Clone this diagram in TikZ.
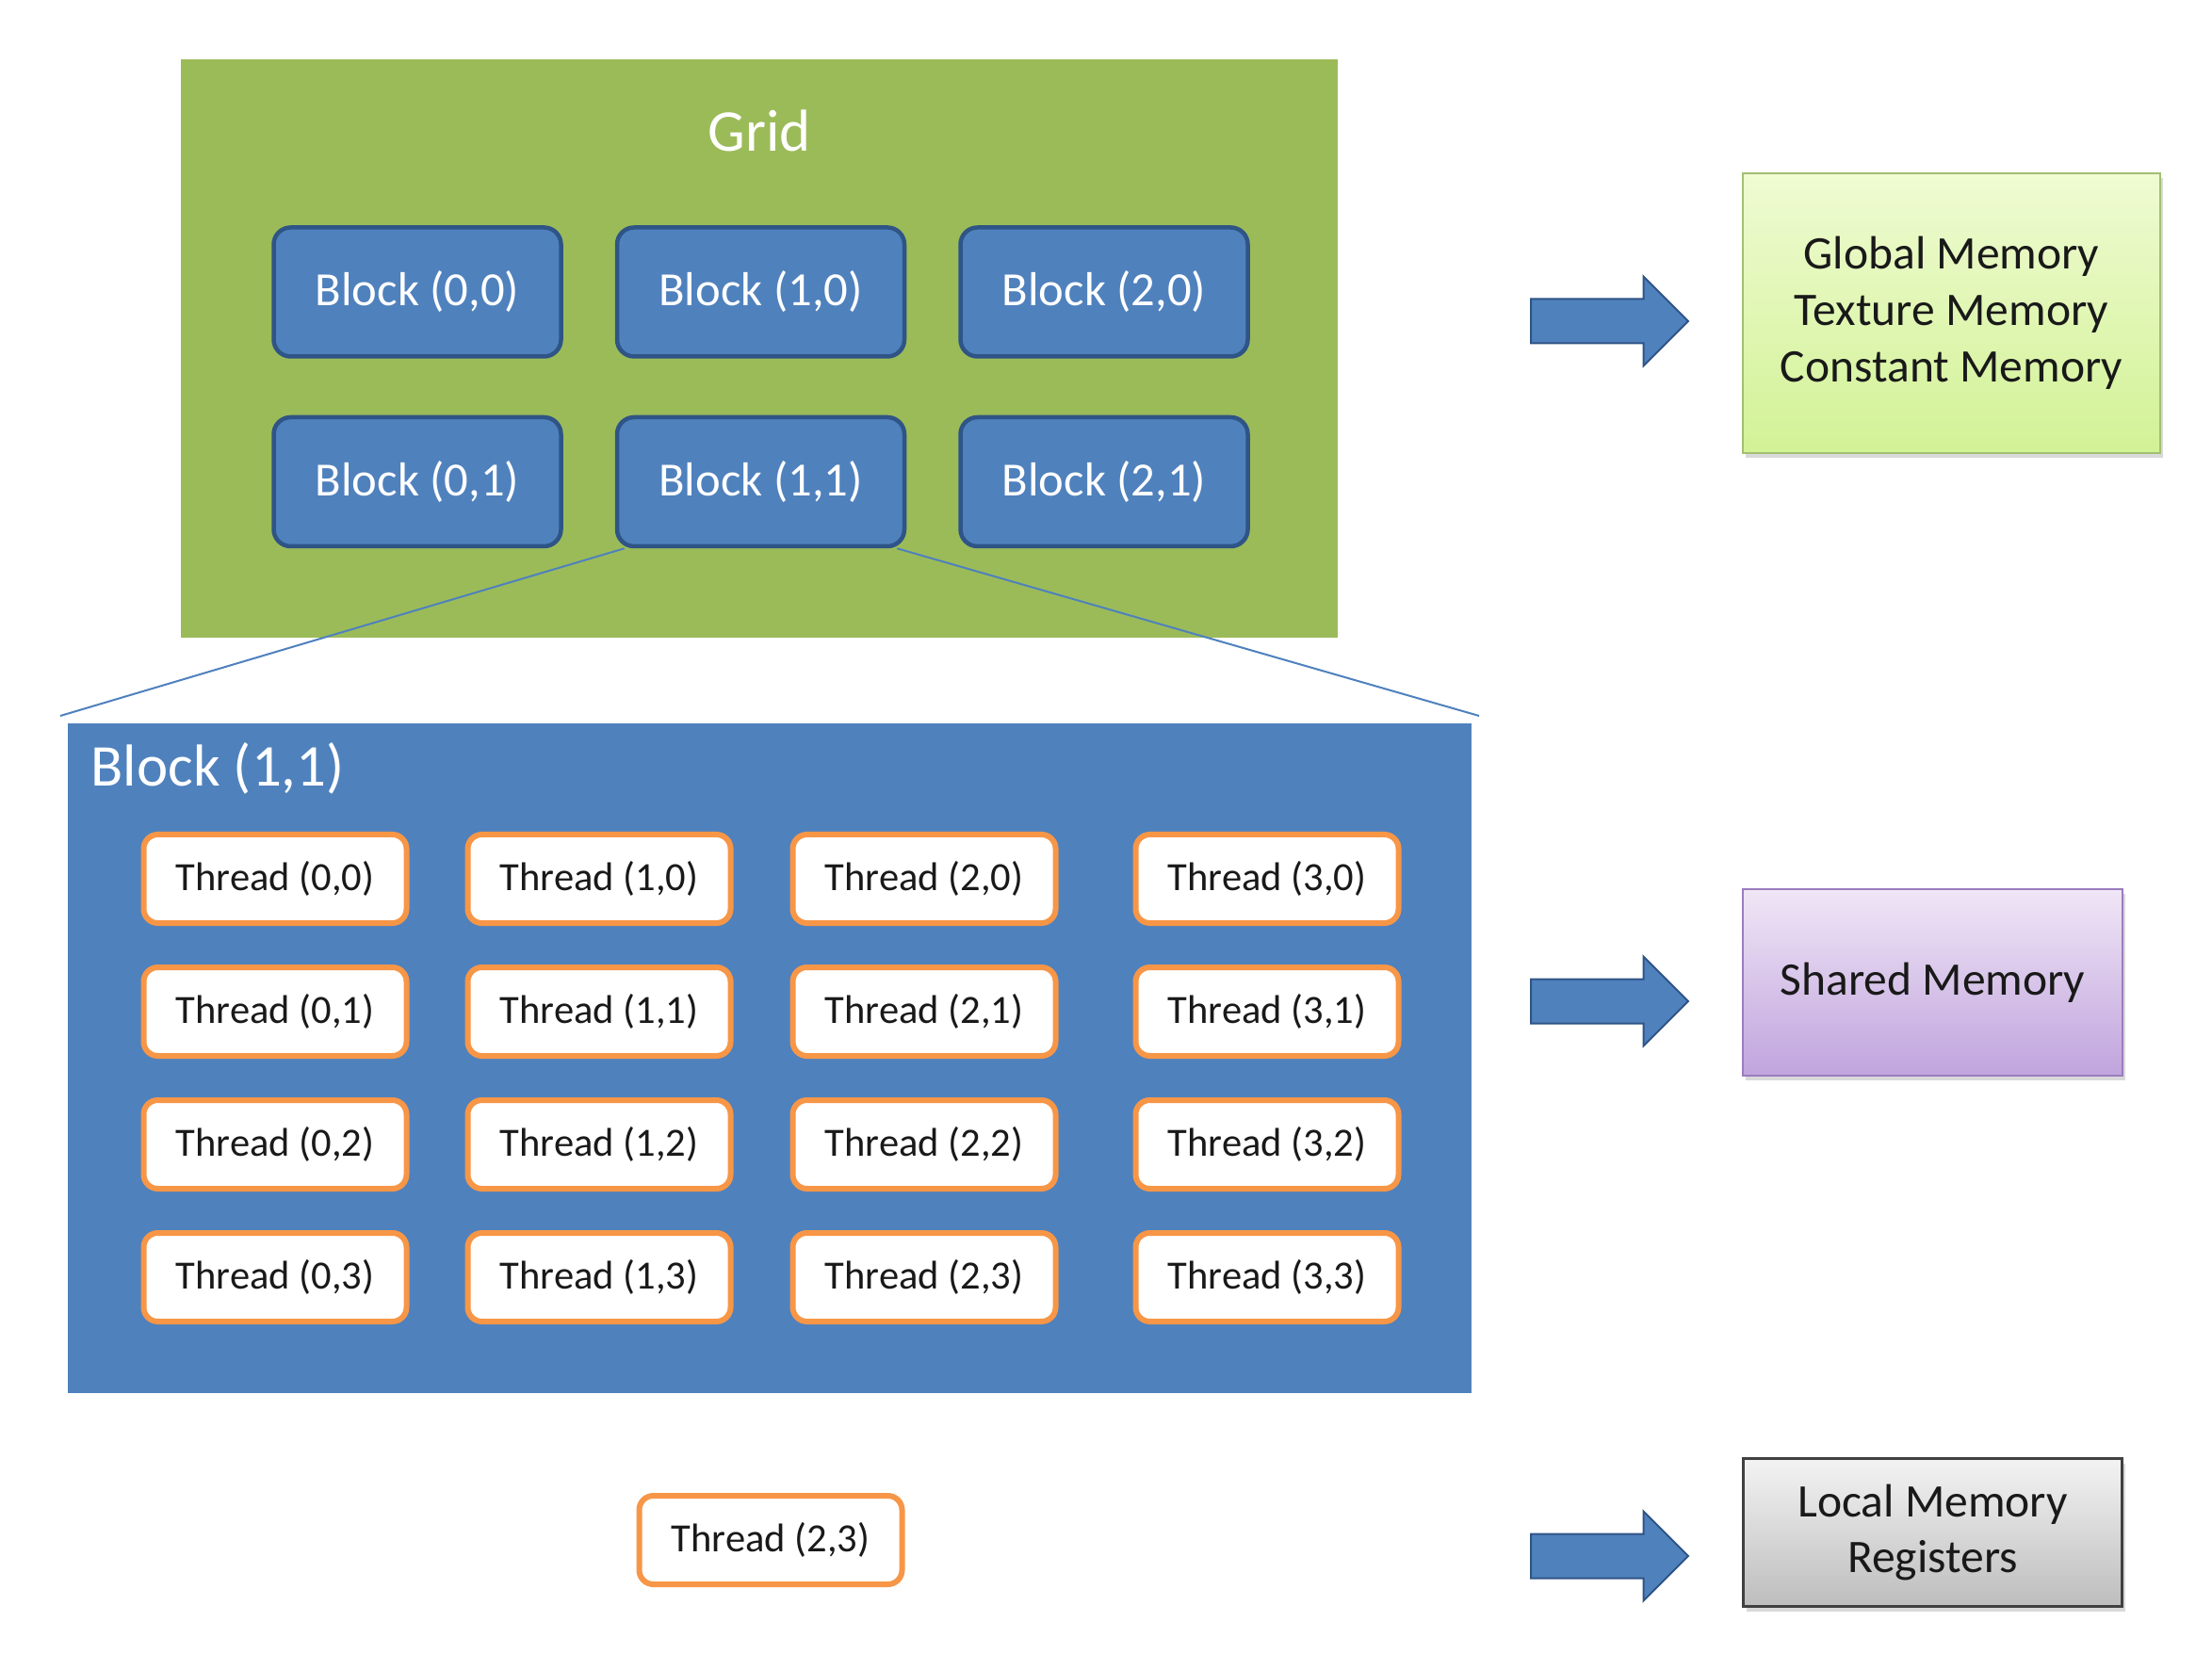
\documentclass[tikz,border=0pt]{standalone}
\usepackage{fontspec}
\setmainfont{Carlito}
\usepackage{tikz}
\usetikzlibrary{shapes,arrows}
\usetikzlibrary{shadows}
\usetikzlibrary{positioning}
\definecolor{gridgreen}{HTML}{9BBB59}
\definecolor{blockblue}{HTML}{4F81BD}
\definecolor{blockedge}{HTML}{2F5486}
\definecolor{threadorange}{HTML}{F79646}
\definecolor{globaltop}{HTML}{EFFBD2}
\definecolor{globalbot}{HTML}{D2F296}
\definecolor{globaledge}{HTML}{A3BE74}
\definecolor{sharedtop}{HTML}{F0E6F6}
\definecolor{sharedbot}{HTML}{C0A4DD}
\definecolor{sharededge}{HTML}{9A7DBF}
\definecolor{localtop}{HTML}{F3F3F3}
\definecolor{localbot}{HTML}{BDBDBD}
\definecolor{localedge}{HTML}{404040}
\tikzset{auto,>=latex', minimum size=0pt, font=\fontsize{12}{12}\selectfont}
\tikzstyle{gridbox} = [draw=white, fill=gridgreen, rectangle, line width=0.08cm, minimum width=12.36cm, minimum height=6.22cm, drop shadow={opacity=0.35, shadow xshift=0.03cm, shadow yshift=-0.03cm}]
\tikzstyle{bigbox} = [draw=white, fill=blockblue, rectangle, line width=0.08cm, minimum width=14.98cm, minimum height=7.19cm, drop shadow={opacity=0.35, shadow xshift=0.03cm, shadow yshift=-0.03cm}]
\tikzstyle{title} = [text=white, inner sep=0pt, font=\fontsize{17.9}{17.9}\selectfont]
\tikzstyle{blk} = [draw=blockedge, fill=blockblue, rectangle, rounded corners=0.18cm, line width=0.045cm, minimum width=3.05cm, minimum height=1.37cm, text=white, font=\fontsize{14.4}{14.4}\selectfont]
\tikzstyle{thr} = [draw=threadorange, fill=white, rectangle, rounded corners=0.15cm, line width=0.06cm, minimum width=2.79cm, minimum height=0.94cm, text=black!90, font=\fontsize{12.1}{12.1}\selectfont]
\tikzstyle{mem} = [rectangle, line width=0.02cm, align=center, text=black!90, font=\fontsize{14.1}{17}\selectfont, drop shadow={opacity=0.3, shadow xshift=0.03cm, shadow yshift=-0.05cm}]
\tikzstyle{fatarrow} = [single arrow, draw=blockedge, fill=blockblue, line width=0.02cm, inner sep=0.225cm, outer sep=0pt, minimum height=1.67cm, single arrow head extend=0.24cm, anchor=tail]
\tikzstyle{link} = [draw=blockblue, line width=0.02cm]

\begin{document}
\begin{tikzpicture}
		\useasboundingbox (0,0) rectangle (23.48,17.72);

		\node [gridbox] at (8.06,14.02) (grid) {};
		\node [title] at (8.06,16.33) (gridtitle) {Grid};

		\node [blk] at (4.43,14.62) (b00) {Block (0,0)};
		\node [blk, right=0.55cm of b00] (b10) {Block (1,0)};
		\node [blk, right=0.55cm of b10] (b20) {Block (2,0)};
		\node [blk, below=0.6cm of b00] (b01) {Block (0,1)};
		\node [blk, below=0.6cm of b10] (b11) {Block (1,1)};
		\node [blk, below=0.6cm of b20] (b21) {Block (2,1)};

		\node [bigbox] at (8.17,6.485) (big) {};
		\node [title, anchor=west] at (0.96,9.56) (bigtitle) {Block (1,1)};

		\draw [link] ([xshift=0.1cm]b11.south west) -- (big.north west);
		\draw [link] ([xshift=-0.1cm]b11.south east) -- (big.north east);

		\node [thr] at (2.92,8.39) (t00) {Thread (0,0)};
		\node [thr, right=0.59cm of t00] (t10) {Thread (1,0)};
		\node [thr, right=0.6cm of t10] (t20) {Thread (2,0)};
		\node [thr, right=0.79cm of t20] (t30) {Thread (3,0)};

		\node [thr, below=0.41cm of t00] (t01) {Thread (0,1)};
		\node [thr, below=0.41cm of t10] (t11) {Thread (1,1)};
		\node [thr, below=0.41cm of t20] (t21) {Thread (2,1)};
		\node [thr, below=0.41cm of t30] (t31) {Thread (3,1)};

		\node [thr, below=0.41cm of t01] (t02) {Thread (0,2)};
		\node [thr, below=0.41cm of t11] (t12) {Thread (1,2)};
		\node [thr, below=0.41cm of t21] (t22) {Thread (2,2)};
		\node [thr, below=0.41cm of t31] (t32) {Thread (3,2)};

		\node [thr, below=0.41cm of t02] (t03) {Thread (0,3)};
		\node [thr, below=0.41cm of t12] (t13) {Thread (1,3)};
		\node [thr, below=0.41cm of t22] (t23) {Thread (2,3)};
		\node [thr, below=0.41cm of t32] (t33) {Thread (3,3)};

		\node [thr] at (8.18,1.37) (tsel) {Thread (2,3)};

		\node [mem, draw=globaledge, top color=globaltop, bottom color=globalbot, minimum width=4.43cm, minimum height=2.97cm] at (20.715,14.395) (gmem) {Global Memory\\Texture Memory\\Constant Memory};
		\node [mem, draw=sharededge, top color=sharedtop, bottom color=sharedbot, minimum width=4.03cm, minimum height=1.98cm] at (20.515,7.29) (smem) {Shared Memory};
		\node [mem, draw=localedge, line width=0.03cm, top color=localtop, bottom color=localbot, minimum width=4.02cm, minimum height=1.57cm] at (20.515,1.45) (lmem) {Local Memory\\Registers};

		\node [fatarrow] at (16.25,14.31) (agrid) {};
		\node [fatarrow] at (16.25,7.09) (ablock) {};
		\node [fatarrow] at (16.25,1.20) (athread) {};

	\end{tikzpicture}
\end{document}
